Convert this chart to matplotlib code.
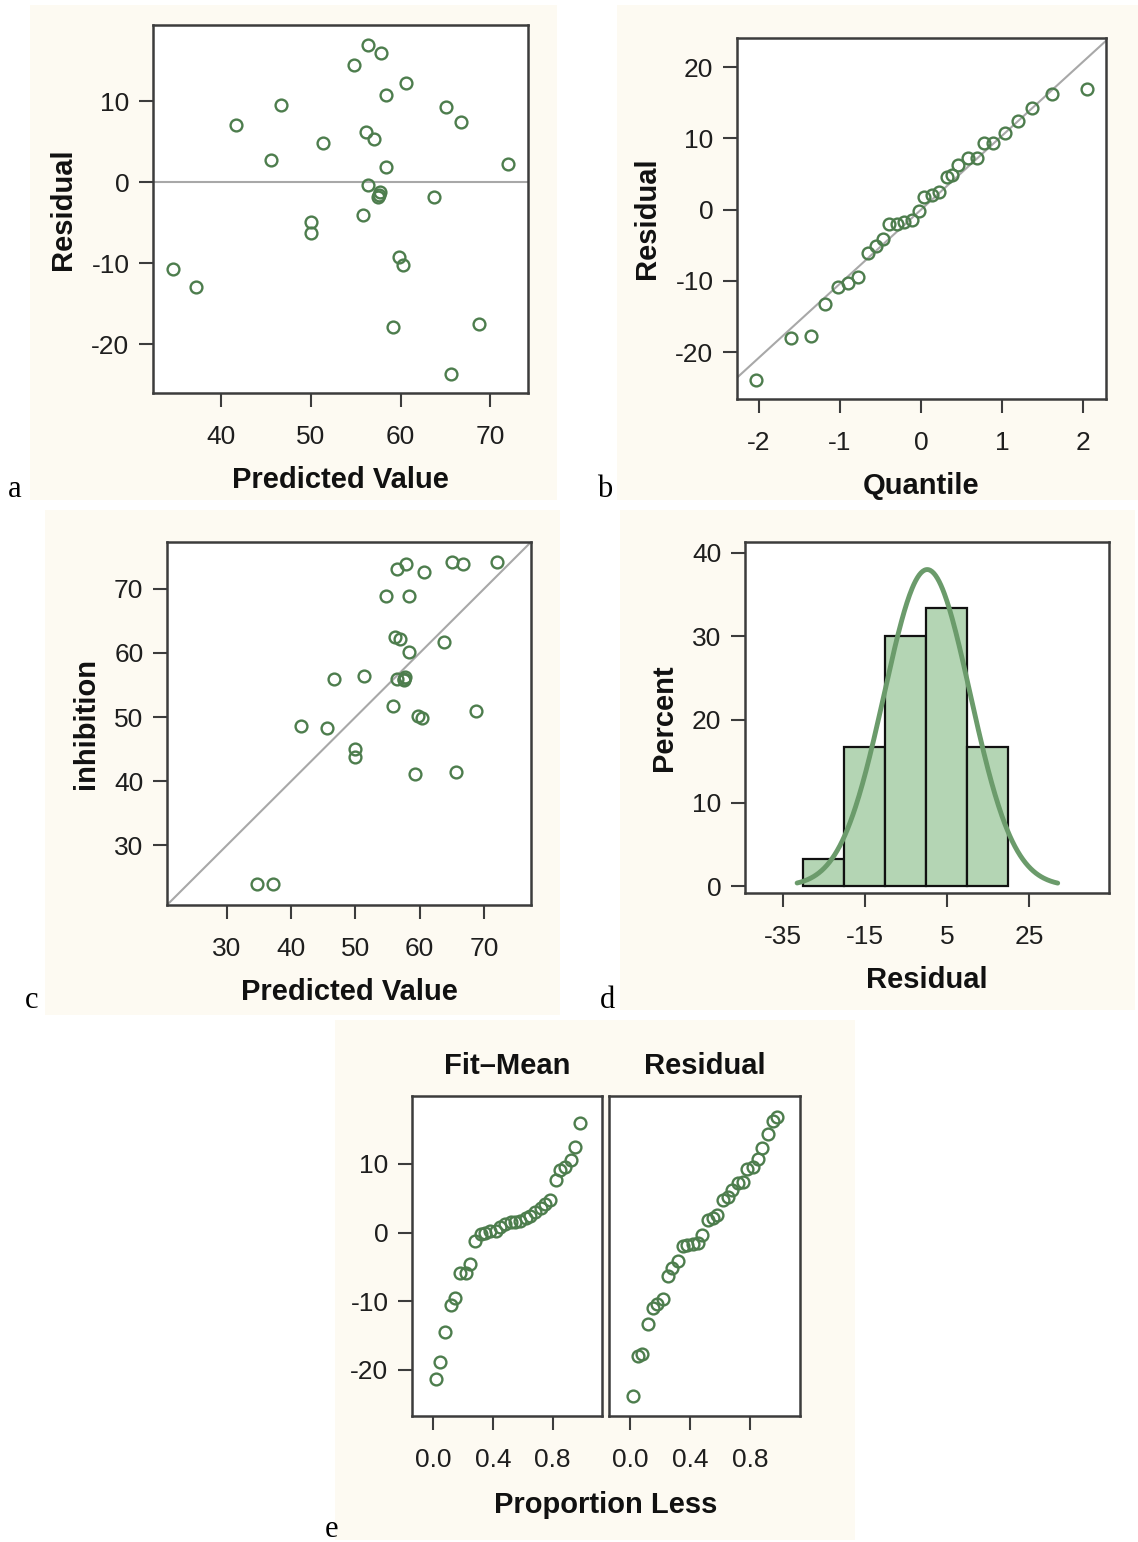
import numpy as np
import matplotlib
matplotlib.use("Agg")
import matplotlib.pyplot as plt
from matplotlib.patches import Rectangle

W, H = 1138, 1542

# ---- data ----
predicted = [56.4, 57.8, 54.75, 60.6, 58.4, 46.7, 65.05, 66.7, 41.6, 56.1,
             57.0, 51.4, 45.6, 58.4, 72.0, 56.4, 57.7, 57.6, 57.5, 63.7,
             55.8, 50.0, 50.0, 59.8, 60.3, 34.65, 37.2, 68.7, 59.2, 65.6]
residual = [16.9, 16.0, 14.5, 12.3, 10.8, 9.5, 9.3, 7.45, 7.1, 6.2,
            5.3, 4.9, 2.8, 1.9, 2.2, -0.3, -1.2, -1.6, -1.8, -1.8,
            -4.0, -4.9, -6.2, -9.2, -10.2, -10.7, -12.9, -17.5, -17.8, -23.7]
inhibition = [73.1, 73.9, 68.9, 72.7, 68.9, 55.9, 74.2, 73.9, 48.6, 62.5,
              62.1, 56.4, 48.3, 60.1, 74.25, 55.9, 56.2, 55.8, 56.0, 61.7,
              51.7, 45.0, 43.8, 50.1, 49.9, 23.9, 23.9, 51.0, 41.1, 41.4]

qq_quantile = [-2.03, -1.61, -1.36, -1.18, -1.03, -0.90, -0.78, -0.66, -0.56, -0.47,
               -0.39, -0.30, -0.21, -0.11, -0.02, 0.04, 0.13, 0.22, 0.325, 0.38,
               0.46, 0.58, 0.69, 0.77, 0.89, 1.04, 1.19, 1.37, 1.62, 2.05]
qq_residual = [-23.95, -18.1, -17.8, -13.3, -10.9, -10.3, -9.5, -6.1, -5.15, -4.1,
               -1.96, -1.96, -1.68, -1.4, -0.23, 1.78, 2.1, 2.5, 4.6, 4.8,
               6.2, 7.25, 7.25, 9.35, 9.35, 10.75, 12.5, 14.2, 16.3, 16.9]
qq_mu, qq_sigma = 0.0, 10.4

hist_left = [-30, -20, -10, 0, 10]
hist_pct = [3.33, 16.67, 30.0, 33.33, 16.67]
hist_width = 10
norm_mu, norm_sigma = 0.2, 10.5
curve_range = (-31.5, 32.0)

prop_less = [0.02, 0.05, 0.08, 0.12, 0.15, 0.18, 0.22, 0.25, 0.28, 0.32,
             0.35, 0.38, 0.42, 0.45, 0.48, 0.52, 0.55, 0.58, 0.62, 0.65,
             0.68, 0.72, 0.75, 0.78, 0.82, 0.85, 0.88, 0.92, 0.95, 0.98]
fit_minus_mean = [-21.3, -18.8, -14.4, -10.6, -9.5, -5.9, -5.9, -4.5, -1.2, -0.2,
                  0.0, 0.2, 0.3, 0.8, 1.3, 1.5, 1.6, 1.7, 2.2, 2.4,
                  3.0, 3.6, 4.1, 4.7, 7.7, 9.1, 9.6, 10.6, 12.5, 15.9]
resid_sorted = [-23.8, -18.0, -17.6, -13.3, -10.9, -10.4, -9.6, -6.3, -5.1, -4.2,
                -1.9, -1.8, -1.7, -1.5, -0.3, 1.8, 2.2, 2.6, 4.8, 5.2,
                6.2, 7.2, 7.4, 9.3, 9.6, 10.7, 12.4, 14.3, 16.2, 16.9]

# ---- style ----
plt.rcParams["font.family"] = ["Liberation Sans", "DejaVu Sans"]
plt.rcParams["axes.unicode_minus"] = False
CREAM = "#fdfaf2"
GREEN = "#4d7d4d"
SPINE = "#3c3c3c"
REFLINE = "#a8a8a8"

fig = plt.figure(figsize=(W / 100, H / 100), dpi=100)
fig.patch.set_facecolor("white")


def cream(l, t, r, b):
    fig.patches.append(Rectangle((l / W, 1 - b / H), (r - l) / W, (b - t) / H,
                                 transform=fig.transFigure, facecolor=CREAM,
                                 edgecolor="none", zorder=-10))


def add_ax(l, t, r, b):
    ax = fig.add_axes([l / W, 1 - b / H, (r - l) / W, (b - t) / H])
    for s in ax.spines.values():
        s.set_color(SPINE)
        s.set_linewidth(1.8)
    ax.tick_params(direction="out", length=10, width=1.5, color=SPINE,
                   labelsize=19, labelcolor="#1e1e1e", top=False, right=False)
    ax.tick_params(axis="x", pad=13)
    ax.tick_params(axis="y", pad=7)
    return ax


def dots(ax, x, y):
    ax.plot(x, y, "o", ms=8.5, mfc="none", mec=GREEN, mew=1.7, zorder=3)


label_kw = dict(fontsize=21, fontweight="bold", color="#111111")

cream(30, 5, 557, 500)
cream(617, 5, 1138, 500)
cream(45, 510, 560, 1015)
cream(620, 510, 1135, 1010)
cream(335, 1020, 855, 1540)

# a: residual vs predicted
ax = add_ax(153, 25, 528, 393)
ax.axhline(0, color=REFLINE, lw=1.5, zorder=1)
dots(ax, predicted, residual)
ax.set_xlim(32.4, 74.2)
ax.set_ylim(-26, 19.4)
ax.set_xticks([40, 50, 60, 70])
ax.set_yticks([-20, -10, 0, 10])
ax.set_xlabel("Predicted Value", labelpad=12, **label_kw)
ax.set_ylabel("Residual", labelpad=10, **label_kw)

# b: normal quantile plot
ax = add_ax(737, 38, 1106, 399)
ax.axline((0, qq_mu), slope=qq_sigma, color=REFLINE, lw=1.5, zorder=1)
dots(ax, qq_quantile, qq_residual)
ax.set_xlim(-2.27, 2.28)
ax.set_ylim(-26.6, 24.1)
ax.set_xticks([-2, -1, 0, 1, 2])
ax.set_yticks([-20, -10, 0, 10, 20])
ax.set_xlabel("Quantile", labelpad=12, **label_kw)
ax.set_ylabel("Residual", labelpad=10, **label_kw)

# c: observed vs predicted
ax = add_ax(167, 542, 531, 905)
ax.axline((0, 0), slope=1, color=REFLINE, lw=1.5, zorder=1)
dots(ax, predicted, inhibition)
ax.set_xlim(20.7, 77.3)
ax.set_ylim(20.7, 77.3)
ax.set_xticks([30, 40, 50, 60, 70])
ax.set_yticks([30, 40, 50, 60, 70])
ax.set_xlabel("Predicted Value", labelpad=12, **label_kw)
ax.set_ylabel("inhibition", labelpad=10, **label_kw)

# d: histogram of residuals with normal curve
ax = add_ax(745, 542, 1109, 893)
ax.bar(hist_left, hist_pct, width=hist_width, align="edge",
       color="#b4d5b4", edgecolor="#111111", lw=1.6, zorder=2)
cx = np.linspace(curve_range[0], curve_range[1], 300)
cy = 100 * hist_width * np.exp(-0.5 * ((cx - norm_mu) / norm_sigma) ** 2) / (norm_sigma * np.sqrt(2 * np.pi))
ax.plot(cx, cy, color="#6b9b6b", lw=3.5, zorder=3, solid_capstyle="round")
ax.set_xlim(-44.2, 44.5)
ax.set_ylim(-0.8, 41.3)
ax.set_xticks([-35, -15, 5, 25])
ax.set_yticks([0, 10, 20, 30, 40])
ax.set_xlabel("Residual", labelpad=12, **label_kw)
ax.set_ylabel("Percent", labelpad=10, **label_kw)

# e: residual-fit spread plot
axl = add_ax(412, 1096, 602, 1416)
dots(axl, prop_less, fit_minus_mean)
axr = add_ax(609, 1096, 800, 1416)
dots(axr, prop_less, resid_sorted)
for a_ in (axl, axr):
    a_.set_xlim(-0.14, 1.13)
    a_.set_ylim(-26.7, 19.9)
    a_.set_xticks([0.0, 0.4, 0.8])
    a_.set_xticklabels(["0.0", "0.4", "0.8"])
axl.set_yticks([-20, -10, 0, 10])
axr.set_yticks([])
axl.set_title("Fit\u2013Mean", pad=16, **label_kw)
axr.set_title("Residual", pad=16, **label_kw)
fig.text(606 / W, 1 - 1505 / H, "Proportion Less", ha="center", va="center", **label_kw)

# panel letters
letter_kw = dict(fontsize=22, family="Liberation Serif", va="baseline", ha="left")
fig.text(8 / W, 1 - 497 / H, "a", **letter_kw)
fig.text(597 / W, 1 - 497 / H, "b", **letter_kw)
fig.text(25 / W, 1 - 1008 / H, "c", **letter_kw)
fig.text(600 / W, 1 - 1008 / H, "d", **letter_kw)
fig.text(325 / W, 1 - 1537 / H, "e", **letter_kw)

fig.savefig("out.png", dpi=100, facecolor="white")
